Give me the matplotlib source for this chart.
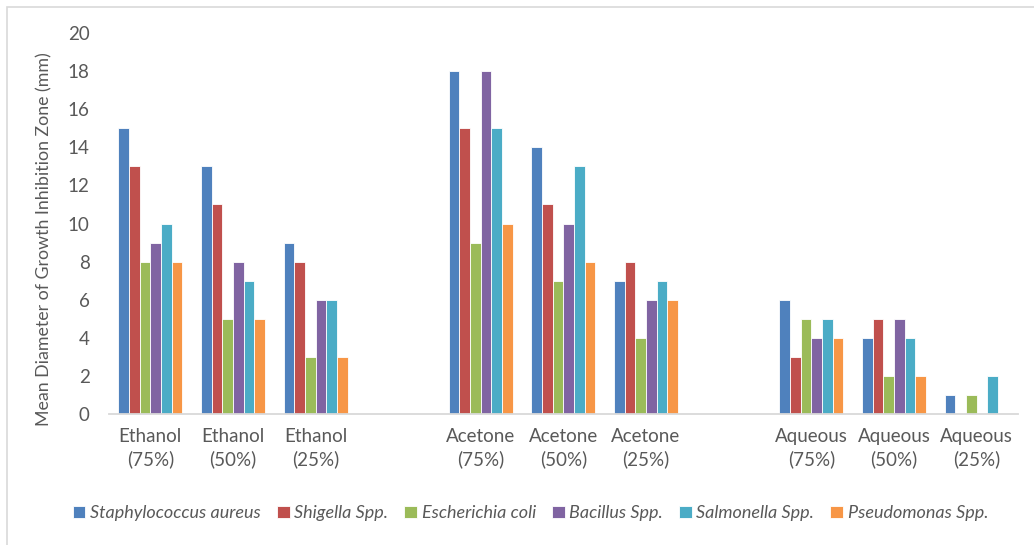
import numpy as np
import matplotlib.pyplot as plt
from matplotlib.patches import Rectangle

plt.rcParams['font.family'] = ['Lato', 'DejaVu Sans']

# data
categories = ['Ethanol\n(75%)', 'Ethanol\n(50%)', 'Ethanol\n(25%)', '',
              'Acetone\n(75%)', 'Acetone\n(50%)', 'Acetone\n(25%)', '',
              'Aqueous\n(75%)', 'Aqueous\n(50%)', 'Aqueous\n(25%)']
organisms = ['Staphylococcus aureus', 'Shigella Spp.', 'Escherichia coli',
             'Bacillus Spp.', 'Salmonella Spp.', 'Pseudomonas Spp.']

staph = [15, 13, 9, 0, 18, 14, 7, 0, 6, 4, 1]
shigella = [13, 11, 8, 0, 15, 11, 8, 0, 3, 5, 0]
ecoli = [8, 5, 3, 0, 9, 7, 4, 0, 5, 2, 1]
bacillus = [9, 8, 6, 0, 18, 10, 6, 0, 4, 5, 0]
salmonella = [10, 7, 6, 0, 15, 13, 7, 0, 5, 4, 2]
pseudo = [8, 5, 3, 0, 10, 8, 6, 0, 4, 2, 0]

series = [staph, shigella, ecoli, bacillus, salmonella, pseudo]
colors = ['#4F81BD', '#C0504D', '#9BBB59', '#8064A2', '#4BACC6', '#F79646']

fig = plt.figure(figsize=(10.34, 5.45), dpi=100)
ax = fig.add_axes([0.1054, 0.2404, 0.879, 0.699])

# light outer border of the chart area
fig.patches.append(Rectangle((7 / 1034, -0.05), 1.1, 1 - 7 / 545 + 0.05,
                             transform=fig.transFigure, fill=False,
                             edgecolor='#D9D9D9', linewidth=1.2))

x = np.arange(len(categories))
w = 0.129
for i, (vals, c) in enumerate(zip(series, colors)):
    ax.bar(x + (i - 2.5) * w, vals, width=w, color=c, edgecolor='white',
           linewidth=0.6, label=organisms[i])

ax.set_xlim(-0.5, len(categories) - 0.5)
ax.set_ylim(0, 20)
ax.set_yticks(range(0, 21, 2))
ax.set_xticks(x)
ax.set_xticklabels(categories, linespacing=1.35)
ax.tick_params(axis='both', length=0, colors='#595959', labelsize=13.5)
ax.tick_params(axis='x', pad=10)
ax.tick_params(axis='y', pad=14)

for s in ['top', 'right', 'left']:
    ax.spines[s].set_visible(False)
ax.spines['bottom'].set_color('#D9D9D9')
ax.spines['bottom'].set_linewidth(1.3)

ax.set_ylabel('Mean Diameter of Growth Inhibition Zone (mm)', fontsize=12.8,
              color='#595959')
ax.yaxis.set_label_coords(-0.062, 0.46)

leg = fig.legend(loc='center', bbox_to_anchor=(0.513, 0.058), ncol=6,
                 frameon=False, handlelength=0.7, handleheight=0.7,
                 handletextpad=0.25, columnspacing=0.9,
                 prop={'style': 'italic', 'size': 13})
for t in leg.get_texts():
    t.set_color('#595959')

fig.savefig('out.png', dpi=100)
